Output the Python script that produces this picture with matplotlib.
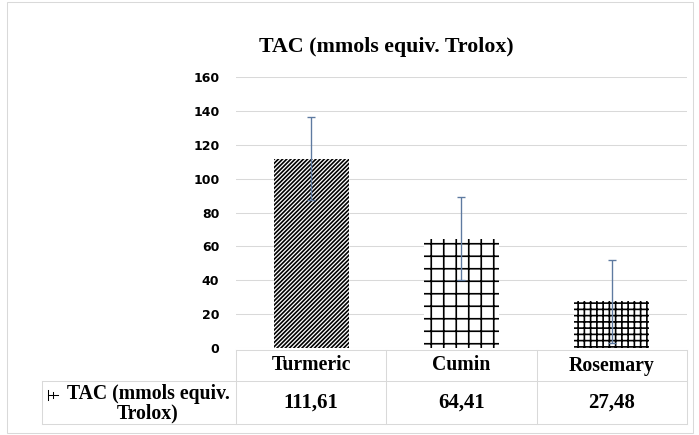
import matplotlib
matplotlib.use('Agg')
import matplotlib.pyplot as plt
import matplotlib.transforms as mtransforms
from matplotlib.patches import Rectangle
from matplotlib.lines import Line2D

# 数据
categories = ['Turmeric', 'Cumin', 'Rosemary']
tac_values = [111.61, 64.41, 27.48]
tac_errors = [24.5, 24.5, 24.5]
series_name = 'TAC (mmols equiv.\nTrolox)'
title = 'TAC (mmols equiv. Trolox)'
y_ticks = [0, 20, 40, 60, 80, 100, 120, 140, 160]
hatches = ['//////', '+', '++']

W, H = 699, 435
DPI = 75
plt.rcParams['hatch.linewidth'] = 1.6
serif = 'Liberation Serif'

fig = plt.figure(figsize=(W / DPI, H / DPI), dpi=DPI)
fig.patch.set_facecolor('white')

# 外框
fig.add_artist(Rectangle((7 / W, 2 / H), 686 / W, 431 / H, transform=fig.transFigure,
                         fill=False, edgecolor='#d9d9d9', lw=1))

ax = fig.add_axes([236 / W, (H - 348) / H, 451 / W, 271 / H])
x = list(range(len(categories)))
bars = ax.bar(x, tac_values, width=0.5, color='white', edgecolor='black', linewidth=0,
              zorder=2)
for b, h in zip(bars, hatches):
    b.set_hatch(h)
ax.errorbar(x, tac_values, yerr=tac_errors, fmt='none', ecolor='#5e7aa0', elinewidth=1.3,
            capsize=4, capthick=1.3, zorder=3)

ax.set_xlim(-0.5, len(categories) - 0.5)
ax.set_ylim(0, 160)
ax.set_yticks(y_ticks)
ax.set_yticklabels([str(t) for t in y_ticks], fontweight='bold', fontsize=12)
ax.tick_params(axis='y', length=0, pad=16)
ax.set_xticks([])
ax.grid(axis='y', color='#d9d9d9', lw=1, zorder=0)
ax.set_axisbelow(True)
for s in ax.spines.values():
    s.set_visible(False)

fig.text(386 / W, (H - 47) / H, title, ha='center', va='center', fontsize=21,
         fontweight='bold', family=serif)

# 数据表
trans = mtransforms.blended_transform_factory(ax.transData, fig.transFigure)
y_top, y_mid, y_bot = (H - 350) / H, (H - 381) / H, (H - 424) / H
grid_c = '#d9d9d9'
n = len(categories)
left_x = 42 / W
right_x = 687 / W
fig.add_artist(Line2D([-0.5, n - 0.5], [y_top, y_top], transform=trans, color=grid_c, lw=1))
for yy in (y_mid, y_bot):
    fig.add_artist(Line2D([left_x, right_x], [yy, yy], transform=fig.transFigure,
                          color=grid_c, lw=1))
fig.add_artist(Line2D([left_x, left_x], [y_bot, y_mid], transform=fig.transFigure,
                      color=grid_c, lw=1))
for i in range(n + 1):
    fig.add_artist(Line2D([i - 0.5, i - 0.5], [y_bot, y_top], transform=trans,
                          color=grid_c, lw=1))

for i, (c, v) in enumerate(zip(categories, tac_values)):
    fig.text(i, (y_top + y_mid) / 2, c, transform=trans, ha='center', va='center',
             fontsize=19, fontweight='bold', family=serif)
    fig.text(i, (y_mid + y_bot) / 2, f'{v:.2f}'.replace('.', ','), transform=trans,
             ha='center', va='center', fontsize=20, fontweight='bold', family=serif)

# 图例标记 (误差线样式)
lk = dict(transform=fig.transFigure, color='black', lw=1)
fig.add_artist(Line2D([48 / W, 48 / W], [(H - 390) / H, (H - 400) / H], **lk))
fig.add_artist(Line2D([48 / W, 58 / W], [(H - 395) / H, (H - 395) / H], **lk))
fig.add_artist(Line2D([53 / W, 53 / W], [(H - 392) / H, (H - 398) / H], **lk))
fig.text(148 / W, (H - 404) / H, series_name, ha='center', va='center',
         fontsize=19, fontweight='bold', family=serif, linespacing=0.95)

fig.savefig('out.png', dpi=DPI)
